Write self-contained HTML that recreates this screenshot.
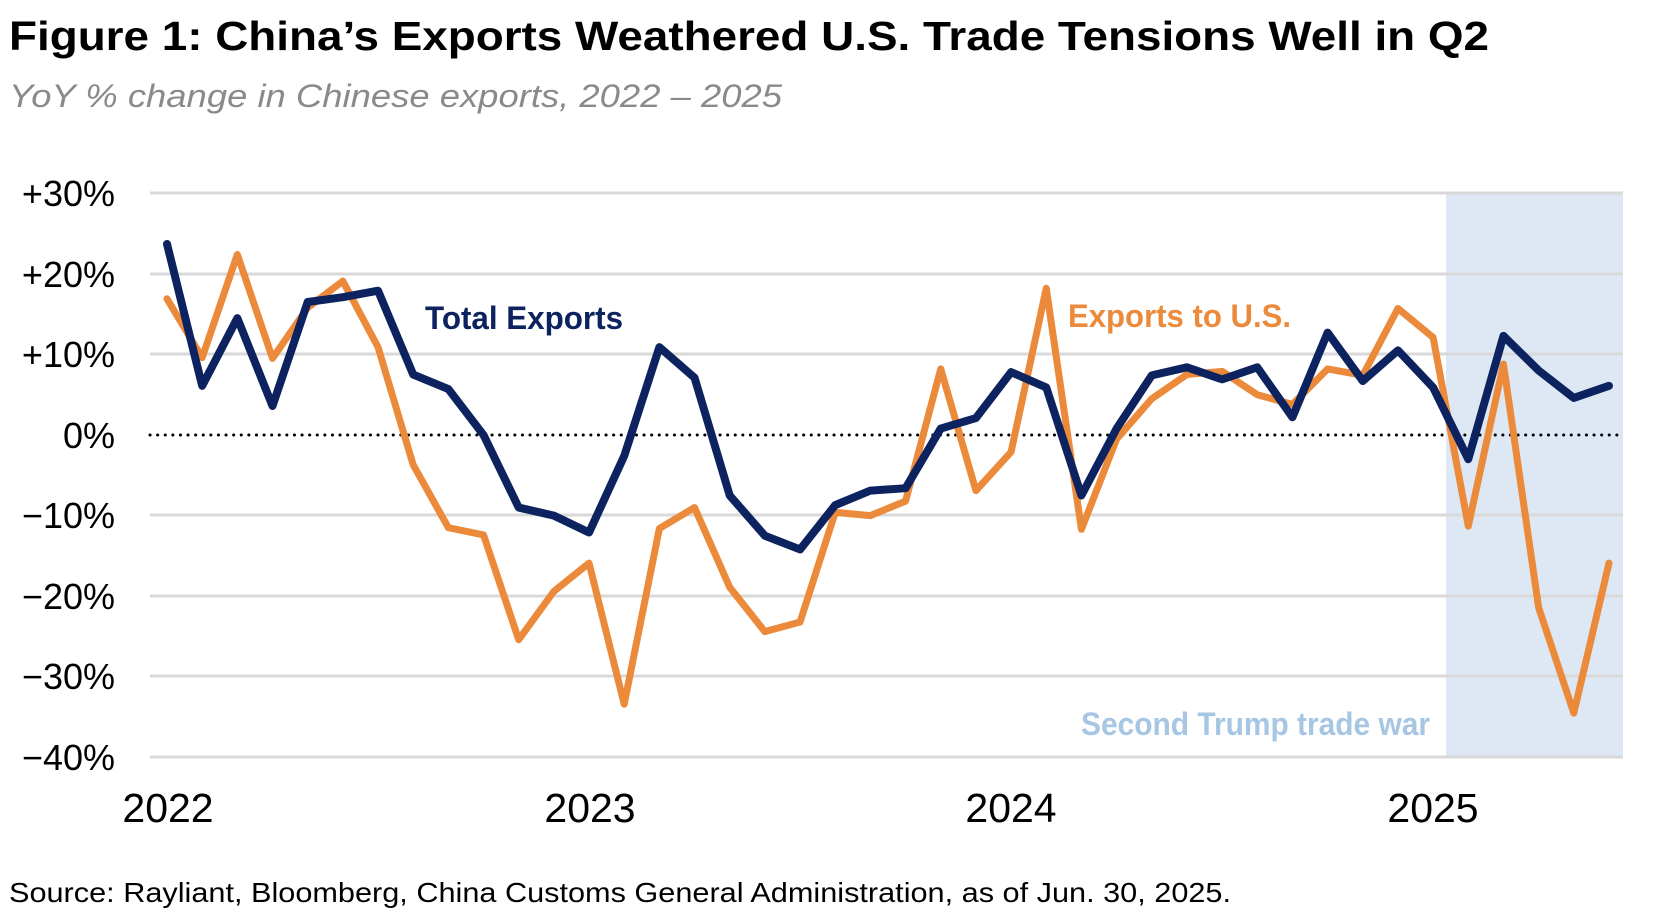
<!DOCTYPE html>
<html><head><meta charset="utf-8"><style>
html,body{margin:0;padding:0;background:#fff;}
svg{display:block;}
</style></head><body>
<svg width="1660" height="920" viewBox="0 0 1660 920" xmlns="http://www.w3.org/2000/svg">
<text x="9" y="50" font-family="Liberation Sans, sans-serif" font-weight="bold" font-size="41" fill="#000" textLength="1480" lengthAdjust="spacingAndGlyphs">Figure 1: China’s Exports Weathered U.S. Trade Tensions Well in Q2</text>
<text x="9" y="107" font-family="Liberation Sans, sans-serif" font-style="italic" font-size="32" fill="#8a8a8a" textLength="773" lengthAdjust="spacingAndGlyphs">YoY % change in Chinese exports, 2022 – 2025</text>
<rect x="1446" y="193" width="177" height="564" fill="#dde8f4"/>
<g stroke="#d9d9d9" stroke-width="3">
<line x1="150" y1="193" x2="1623" y2="193"/>
<line x1="150" y1="274" x2="1623" y2="274"/>
<line x1="150" y1="354" x2="1623" y2="354"/>
<line x1="150" y1="515" x2="1623" y2="515"/>
<line x1="150" y1="596" x2="1623" y2="596"/>
<line x1="150" y1="676" x2="1623" y2="676"/>
<line x1="150" y1="757" x2="1623" y2="757"/>
</g>
<line x1="150" y1="435" x2="1623" y2="435" stroke="#000" stroke-width="3" stroke-dasharray="0.1 7.5" stroke-linecap="round"/>
<g font-family="Liberation Sans, sans-serif" font-size="36" fill="#000" text-anchor="end">
<text x="115" y="206">+30%</text>
<text x="115" y="287">+20%</text>
<text x="115" y="367">+10%</text>
<text x="115" y="448">0%</text>
<text x="115" y="528">−10%</text>
<text x="115" y="609">−20%</text>
<text x="115" y="689">−30%</text>
<text x="115" y="770">−40%</text>
</g>
<g font-family="Liberation Sans, sans-serif" font-size="41" fill="#000" text-anchor="middle">
<text x="168" y="822">2022</text>
<text x="590" y="822">2023</text>
<text x="1011" y="822">2024</text>
<text x="1433" y="822">2025</text>
</g>
<g transform="translate(167,435) scale(35.17,-8.06)" fill="none" stroke-linejoin="round" stroke-linecap="round">
<polyline vector-effect="non-scaling-stroke" stroke="#ec8a3b" stroke-width="7" points="0,16.9 1,9.6 2,22.4 3,9.5 4,15.8 5,19.1 6,10.9 7,-3.7 8,-11.5 9,-12.4 10,-25.4 11,-19.4 12,-15.9 13,-33.4 14,-11.6 15,-9 16,-18.9 17,-24.4 18,-23.2 19,-9.6 20,-10 21,-8.2 22,8.2 23,-6.9 24,-2.1 25,18.2 26,-11.7 27,-0.5 28,4.5 29,7.5 30,7.9 31,5 32,3.8 33,8.2 34,7.4 35,15.7 36,12.1 37,-11.3 38,8.8 39,-21.4 40,-34.5 41,-15.9"/>
<polyline vector-effect="non-scaling-stroke" stroke="#0d2360" stroke-width="8" points="0,23.7 1,6.1 2,14.5 3,3.6 4,16.5 5,17.1 6,17.9 7,7.5 8,5.7 9,0 10,-9 11,-10 12,-12.1 13,-2.6 14,10.9 15,7.1 16,-7.5 17,-12.5 18,-14.2 19,-8.7 20,-6.9 21,-6.6 22,0.8 23,2.1 24,7.8 25,5.9 26,-7.5 27,0.8 28,7.4 29,8.4 30,6.9 31,8.4 32,2.2 33,12.7 34,6.7 35,10.5 36,5.9 37,-3 38,12.3 39,8 40,4.6 41,6.1"/>
</g>
<text x="425" y="329" font-family="Liberation Sans, sans-serif" font-weight="bold" font-size="32" fill="#0d2360" textLength="198" lengthAdjust="spacingAndGlyphs">Total Exports</text>
<text x="1068" y="327" font-family="Liberation Sans, sans-serif" font-weight="bold" font-size="32" fill="#ec8a3b" textLength="223" lengthAdjust="spacingAndGlyphs">Exports to U.S.</text>
<text x="1081" y="735" font-family="Liberation Sans, sans-serif" font-weight="bold" font-size="32" fill="#a6c6e3" textLength="349" lengthAdjust="spacingAndGlyphs">Second Trump trade war</text>
<text x="9" y="902" font-family="Liberation Sans, sans-serif" font-size="28" fill="#000" textLength="1222" lengthAdjust="spacingAndGlyphs">Source: Rayliant, Bloomberg, China Customs General Administration, as of Jun. 30, 2025.</text>
</svg>
</body></html>
